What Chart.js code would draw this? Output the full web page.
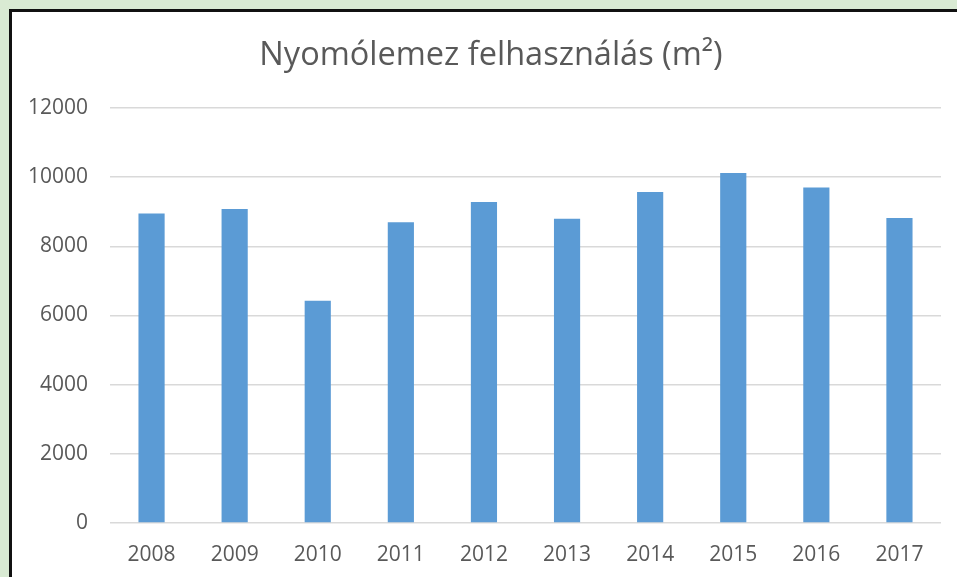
<!DOCTYPE html>
<html>
<head>
<meta charset="utf-8">
<script src="https://cdn.jsdelivr.net/npm/chart.js@4"></script>
<style>
  html, body { margin: 0; padding: 0; width: 957px; height: 577px; overflow: hidden; background: #d9ead3; }
  #frame { position: absolute; left: 9px; top: 9px; width: 948px; height: 568px; box-sizing: border-box; background: #fff; border-top: 3px solid #111; border-left: 3px solid #111; }
  #wrap { position: absolute; left: 0; top: 0; width: 957px; height: 577px; }
</style>
</head>
<body>
<div id="frame"></div>
<div id="wrap"><canvas id="chart"></canvas></div>
<script>
// data
var years = ["2008", "2009", "2010", "2011", "2012", "2013", "2014", "2015", "2016", "2017"];
var usage = [8950, 9080, 6430, 8700, 9280, 8800, 9570, 10120, 9700, 8820];
var yTicks = [0, 2000, 4000, 6000, 8000, 10000, 12000];
var title = "Nyomólemez felhasználás (m²)";

// title sits centred on the white panel, not on the canvas, so draw it by hand
var titlePlugin = {
  id: "panelTitle",
  afterDraw: function (chart) {
    var c = chart.ctx;
    c.save();
    c.fillStyle = "#595959";
    c.font = "32.5px 'Open Sans'";
    c.textAlign = "center";
    c.textBaseline = "middle";
    c.fillText(title, 491, 55.5);
    c.restore();
  }
};

var ctx = document.getElementById("chart").getContext("2d");
new Chart(ctx, {
  type: "bar",
  data: {
    labels: years,
    datasets: [{
      label: "Nyomólemez",
      data: usage,
      backgroundColor: "#5b9bd5",
      borderWidth: 0,
      categoryPercentage: 1,
      barPercentage: 0.315
    }]
  },
  options: {
    responsive: true,
    maintainAspectRatio: false,
    animation: false,
    layout: { padding: { left: 0, right: 16, top: 108, bottom: 0 } },
    plugins: {
      legend: { display: false },
      tooltip: { enabled: false },
      title: { display: false }
    },
    scales: {
      x: {
        grid: { display: false, drawTicks: false },
        border: { display: false },
        ticks: { color: "#595959", font: { family: "Open Sans", size: 21 }, padding: 19, maxRotation: 0 },
        afterFit: function (s) { s.height = 54; }
      },
      y: {
        min: 0,
        max: 12000,
        afterBuildTicks: function (s) { s.ticks = yTicks.map(function (v) { return { value: v }; }); },
        grid: { color: "#d9d9d9", lineWidth: 1.5, drawTicks: false },
        border: { display: false },
        ticks: {
          color: "#595959",
          font: { family: "Open Sans", size: 21 },
          padding: 22,
          callback: function (v) { return String(v); }
        },
        afterFit: function (s) { s.width = 110; }
      }
    }
  },
  plugins: [titlePlugin]
});
</script>
</body>
</html>
